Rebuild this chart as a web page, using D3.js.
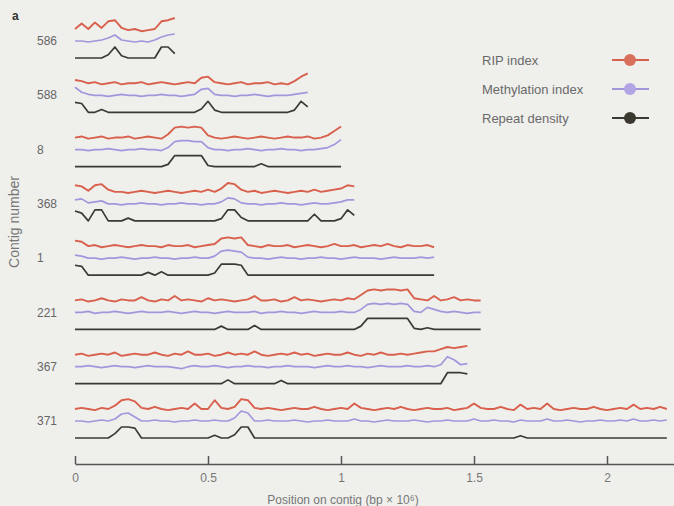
<!DOCTYPE html>
<html>
<head>
<meta charset="utf-8">
<script src="https://cdn.jsdelivr.net/npm/d3@7"></script>
<style>
  html, body { margin: 0; padding: 0; background: #efefec; }
  svg { display: block; font-family: "Liberation Sans", Arial, sans-serif; }
</style>
</head>
<body>
<svg id="chart" width="674" height="506"></svg>
<script>
// Sampling interval along each contig (Mb)
const step = 0.025;

const contigs = ["586", "588", "8", "368", "1", "221", "367", "371"];
const legendLabels = ["RIP index", "Methylation index", "Repeat density"];
const tickValues = [0, 0.5, 1, 1.5, 2];
const tickLabels = ["0", "0.5", "1", "1.5", "2"];

// Contig 586
const rip586  = [1.0, 1.5, 1.0, 1.6, 1.1, 1.7, 1.8, 1.1, 0.9, 1.0, 0.8, 0.9, 1.0, 1.7, 1.8, 2.0];
const meth586 = [1.0, 1.0, 0.9, 1.0, 1.1, 1.3, 1.6, 1.1, 1.0, 0.9, 1.0, 0.9, 1.1, 1.4, 1.6, 1.7];
const rep586  = [0, 0, 0, 0, 0, 0.3, 1, 0.2, 0, 0, 0, 0, 0, 1, 1, 0.4];

// Contig 588
const rip588 = [1.3, 1.2, 1.0, 1.1, 0.9, 1.0, 1.1, 0.9, 1.0, 1.0,
                1.1, 0.9, 1.0, 1.1, 1.0, 0.9, 1.0, 1.1, 1.0, 1.5,
                1.6, 1.1, 1.0, 0.9, 1.0, 1.1, 0.9, 1.0, 1.0, 1.1,
                0.9, 1.0, 0.9, 1.2, 1.6, 1.9];
const meth588 = [1.8, 1.3, 1.1, 1.0, 1.0, 0.9, 1.0, 1.1, 1.0, 1.0,
                 0.9, 1.0, 1.0, 1.1, 1.0, 1.0, 0.9, 1.0, 1.1, 1.6,
                 1.7, 1.1, 1.0, 1.0, 0.9, 1.0, 1.0, 1.1, 1.0, 0.9,
                 1.0, 1.0, 1.0, 1.1, 1.2, 1.3];
const rep588 = [0.9, 0.8, 0, 0, 0.25, 0, 0, 0, 0, 0,
                0, 0, 0, 0, 0, 0, 0, 0, 0, 0.3,
                1, 0.2, 0, 0, 0, 0, 0, 0, 0, 0,
                0, 0, 0, 0.2, 1, 0.5];

// Contig 8
const rip8 = [1.0, 1.1, 0.9, 1.0, 1.1, 0.9, 1.0, 1.0, 1.1, 0.9,
              1.0, 1.1, 1.0, 0.9, 1.3, 1.9, 2.0, 1.9, 2.0, 1.9,
              1.2, 1.0, 0.9, 1.0, 1.1, 1.0, 0.9, 1.0, 1.1, 1.0,
              0.9, 1.0, 1.1, 1.0, 1.0, 1.1, 0.9, 1.0, 1.2, 1.6,
              2.0];
const meth8 = [1.0, 1.0, 0.9, 1.0, 1.0, 1.1, 1.0, 0.9, 1.0, 1.0,
               1.1, 1.0, 1.0, 0.9, 1.2, 1.8, 1.9, 1.9, 1.8, 1.8,
               1.2, 1.0, 1.0, 0.9, 1.0, 1.0, 1.1, 1.0, 0.9, 1.0,
               1.0, 1.1, 1.0, 1.0, 0.9, 1.0, 1.0, 1.1, 1.2, 1.5,
               2.0];
const rep8 = [0, 0, 0, 0, 0, 0, 0, 0, 0, 0,
              0, 0, 0, 0, 0.2, 1, 1, 1, 1, 1,
              0.1, 0, 0, 0, 0, 0, 0, 0, 0.25, 0,
              0, 0, 0, 0, 0, 0, 0, 0, 0, 0,
              0];

// Contig 368
const rip368 = [1.6, 1.5, 1.1, 1.6, 1.7, 1.2, 1.0, 1.0, 0.9, 1.0,
                1.1, 1.0, 0.9, 1.0, 1.1, 1.0, 0.9, 1.0, 1.1, 1.0,
                1.2, 1.0, 1.3, 1.8, 1.7, 1.2, 1.0, 1.1, 0.9, 1.0,
                1.1, 1.0, 0.9, 1.0, 1.1, 1.0, 1.2, 1.0, 1.1, 1.2,
                1.3, 1.6, 1.5];
const meth368 = [1.4, 1.5, 1.1, 1.2, 1.3, 1.0, 1.0, 0.9, 1.0, 1.0,
                 1.1, 1.0, 1.0, 0.9, 1.0, 1.0, 1.1, 1.0, 1.0, 0.9,
                 1.0, 1.0, 1.2, 1.6, 1.5, 1.1, 1.0, 1.0, 0.9, 1.0,
                 1.0, 1.1, 1.0, 1.0, 0.9, 1.0, 1.1, 1.0, 1.0, 1.1,
                 1.2, 1.4, 1.4];
const rep368 = [0.9, 0.7, 0, 1, 1, 0, 0, 0, 0.25, 0,
                0, 0, 0, 0, 0, 0, 0, 0, 0, 0,
                0, 0, 0.2, 1, 1, 0.3, 0, 0, 0, 0,
                0, 0, 0, 0, 0, 0, 0.6, 0, 0, 0,
                0.2, 1, 0.5];

// Contig 1
const rip1 = [1.5, 1.4, 1.0, 1.1, 0.9, 1.0, 1.1, 1.0, 0.9, 1.0,
              1.1, 1.0, 1.0, 0.9, 1.1, 1.0, 1.0, 1.1, 0.9, 1.0,
              1.1, 1.2, 1.7, 1.8, 1.7, 1.8, 1.1, 1.0, 0.9, 1.1,
              1.0, 1.0, 1.1, 0.9, 1.0, 1.1, 1.0, 0.9, 1.0, 1.2,
              1.0, 1.0, 1.1, 0.9, 1.0, 1.1, 1.0, 1.2, 1.0, 0.9,
              1.1, 1.0, 1.0, 1.1, 0.9];
const meth1 = [1.3, 1.2, 1.0, 1.0, 0.9, 1.0, 1.0, 1.1, 1.0, 0.9,
               1.0, 1.0, 1.1, 1.0, 1.0, 0.9, 1.0, 1.0, 1.1, 1.0,
               1.0, 1.2, 1.7, 1.8, 1.7, 1.6, 1.1, 1.0, 1.0, 0.9,
               1.0, 1.1, 1.0, 1.0, 0.9, 1.0, 1.0, 1.1, 1.0, 1.0,
               0.9, 1.0, 1.1, 1.0, 1.0, 1.0, 0.9, 1.0, 1.1, 1.0,
               1.0, 1.0, 1.1, 1.0, 1.1];
const rep1 = [0.9, 0.8, 0, 0, 0, 0, 0, 0, 0, 0,
              0, 0.25, 0, 0.3, 0, 0, 0, 0, 0, 0,
              0, 0.2, 1, 1, 1, 0.9, 0, 0, 0, 0,
              0, 0, 0, 0, 0, 0, 0, 0, 0, 0,
              0, 0, 0, 0, 0, 0, 0, 0, 0, 0,
              0, 0, 0, 0, 0];

// Contig 221
const rip221 = [1.0, 1.1, 0.9, 1.0, 1.2, 1.0, 0.9, 1.1, 1.0, 1.0,
                1.3, 1.0, 0.9, 1.1, 1.0, 1.4, 1.0, 1.1, 1.0, 0.9,
                1.2, 1.0, 1.1, 1.0, 0.9, 1.0, 1.1, 1.4, 1.0, 1.0,
                1.1, 0.9, 1.0, 1.3, 1.0, 1.1, 1.0, 0.9, 1.0, 1.1,
                1.0, 1.2, 1.1, 1.5, 1.9, 2.0, 1.9, 2.0, 2.0, 1.9,
                2.0, 1.2, 1.1, 1.0, 1.4, 1.0, 1.1, 1.3, 1.0, 1.1,
                1.0, 1.0];
const meth221 = [1.0, 1.0, 1.1, 0.9, 1.0, 1.0, 1.1, 1.0, 0.9, 1.0,
                 1.1, 1.0, 1.0, 1.0, 1.1, 1.0, 0.9, 1.0, 1.1, 1.0,
                 1.0, 0.9, 1.0, 1.1, 1.0, 1.0, 1.0, 1.1, 0.9, 1.0,
                 1.0, 1.1, 1.0, 1.0, 0.9, 1.0, 1.1, 1.0, 1.0, 1.0,
                 1.1, 1.0, 1.0, 1.3, 1.8, 1.9, 1.8, 1.9, 1.8, 1.9,
                 1.8, 1.1, 1.0, 1.5, 1.3, 1.1, 1.0, 1.1, 1.0, 0.9,
                 1.0, 1.0];
const rep221 = [0, 0, 0, 0, 0, 0, 0, 0, 0, 0,
                0, 0, 0, 0, 0, 0, 0, 0, 0, 0,
                0, 0, 0.3, 0, 0, 0, 0, 0.35, 0, 0,
                0, 0, 0, 0, 0, 0, 0, 0, 0, 0,
                0, 0, 0, 0.3, 1, 1, 1, 1, 1, 1,
                1, 0.1, 0, 0.15, 0, 0, 0, 0, 0, 0,
                0, 0];

// Contig 367
const rip367 = [1.0, 1.1, 0.9, 1.0, 1.1, 1.0, 1.2, 0.9, 1.0, 1.1,
                1.0, 1.0, 1.2, 1.0, 0.9, 1.1, 1.0, 1.3, 1.0, 1.0,
                1.1, 0.9, 1.0, 1.2, 1.0, 1.1, 1.0, 1.3, 1.0, 0.9,
                1.0, 1.1, 1.0, 1.2, 1.0, 1.1, 0.9, 1.0, 1.1, 1.0,
                1.0, 1.2, 1.0, 0.9, 1.1, 1.0, 1.2, 1.0, 1.0, 1.1,
                1.0, 1.1, 1.2, 1.3, 1.3, 1.5, 1.7, 1.6, 1.7, 1.8];
const meth367 = [1.0, 1.0, 1.1, 1.0, 0.9, 1.0, 1.1, 1.0, 1.0, 0.9,
                 1.0, 1.1, 1.0, 1.0, 1.0, 0.9, 0.8, 1.0, 1.1, 1.0,
                 1.0, 1.1, 1.0, 0.9, 1.0, 1.0, 1.1, 1.0, 1.0, 0.9,
                 1.0, 1.0, 1.1, 1.0, 1.0, 1.0, 0.9, 1.0, 1.1, 1.0,
                 1.0, 1.1, 1.0, 1.0, 0.9, 1.0, 1.1, 1.0, 1.0, 1.0,
                 1.1, 1.0, 1.0, 1.1, 1.0, 1.2, 2.0, 1.7, 1.2, 1.3];
const rep367 = [0, 0, 0, 0, 0, 0, 0, 0, 0, 0,
                0, 0, 0, 0, 0, 0, 0, 0, 0, 0,
                0, 0, 0, 0.35, 0, 0, 0, 0, 0, 0,
                0, 0.3, 0, 0, 0, 0, 0, 0, 0, 0,
                0, 0, 0, 0, 0, 0, 0, 0, 0, 0,
                0, 0, 0, 0, 0, 0, 1, 1, 1, 0.9];

// Contig 371
const rip371 = [1.0, 1.1, 1.0, 0.9, 1.1, 1.0, 1.3, 1.8, 1.9, 1.7,
                1.1, 1.0, 1.2, 1.0, 0.9, 1.0, 1.1, 1.0, 1.5, 1.0,
                1.0, 1.8, 1.1, 1.0, 1.2, 1.9, 1.8, 1.1, 1.0, 1.1,
                1.0, 0.9, 1.0, 1.1, 1.0, 1.0, 1.2, 1.0, 0.9, 1.0,
                1.1, 1.0, 1.5, 1.1, 1.0, 0.9, 1.0, 1.1, 1.0, 1.2,
                1.0, 0.9, 1.0, 1.1, 1.0, 1.0, 1.1, 0.9, 1.0, 1.1,
                1.5, 1.1, 1.0, 1.0, 1.2, 1.0, 0.9, 1.4, 1.0, 1.1,
                1.0, 1.5, 1.0, 0.9, 1.0, 1.1, 1.0, 1.0, 1.2, 1.0,
                0.9, 1.0, 1.1, 1.0, 1.4, 1.0, 1.1, 1.0, 1.2, 1.0];
const meth371 = [1.0, 1.0, 0.9, 1.0, 1.1, 1.0, 1.2, 1.7, 1.8, 1.4,
                 1.0, 1.0, 1.1, 1.0, 1.0, 0.9, 1.0, 1.0, 1.1, 1.0,
                 1.0, 1.1, 1.0, 1.0, 1.3, 2.0, 1.8, 1.0, 1.0, 1.1,
                 1.0, 1.0, 1.0, 1.1, 1.0, 0.9, 1.0, 1.0, 1.1, 1.0,
                 1.0, 1.0, 1.2, 1.0, 1.0, 0.9, 1.0, 1.1, 1.0, 1.0,
                 1.0, 1.1, 1.0, 0.9, 1.0, 1.0, 1.1, 1.0, 1.0, 1.0,
                 1.2, 1.0, 1.0, 1.1, 1.0, 1.0, 0.9, 1.1, 1.0, 1.0,
                 1.0, 1.2, 1.0, 1.0, 1.1, 1.0, 0.9, 1.0, 1.0, 1.1,
                 1.0, 1.0, 1.1, 1.0, 1.2, 1.0, 1.0, 1.1, 1.0, 1.1];
const rep371 = [0, 0, 0, 0, 0, 0, 0.4, 1, 1, 0.9,
                0, 0, 0, 0, 0, 0, 0, 0, 0, 0,
                0, 0.25, 0, 0, 0.3, 1, 1, 0, 0, 0,
                0, 0, 0, 0, 0, 0, 0, 0, 0, 0,
                0, 0, 0, 0, 0, 0, 0, 0, 0, 0,
                0, 0, 0, 0, 0, 0, 0, 0, 0, 0,
                0, 0, 0, 0, 0, 0, 0, 0.2, 0, 0,
                0, 0, 0, 0, 0, 0, 0, 0, 0, 0,
                0, 0, 0, 0, 0, 0, 0, 0, 0, 0];

const tracks = [
  { id: "586", rip: rip586, meth: meth586, rep: rep586 },
  { id: "588", rip: rip588, meth: meth588, rep: rep588 },
  { id: "8",   rip: rip8,   meth: meth8,   rep: rep8 },
  { id: "368", rip: rip368, meth: meth368, rep: rep368 },
  { id: "1",   rip: rip1,   meth: meth1,   rep: rep1 },
  { id: "221", rip: rip221, meth: meth221, rep: rep221 },
  { id: "367", rip: rip367, meth: meth367, rep: rep367 },
  { id: "371", rip: rip371, meth: meth371, rep: rep371 }
];

const colors = { rip: "#d8604c", meth: "#a496dc", rep: "#3c3a33" };
const markerColors = ["#d9705c", "#b3a4e6", "#3b382f"];

const svg = d3.select("#chart");

// Position along contig (Mb)
const x = d3.scaleLinear().domain([0, 2.25]).range([75, 673.5]);
// Repeat-density baseline of each contig row
const row = d3.scalePoint().domain(contigs).range([58, 438]);

// Offsets within a row, relative to the repeat baseline
const ripY  = d3.scaleLinear().domain([0, 2]).range([-18, -40]);
const methY = d3.scaleLinear().domain([0, 2]).range([-7, -27]);
const repY  = d3.scaleLinear().domain([0, 1]).range([0, -11]);

const lineFor = yScale => d3.line()
  .x((d, i) => x(i * step))
  .y(d => yScale(d));

const rows = svg.append("g").selectAll("g.track")
  .data(tracks)
  .join("g")
  .attr("class", "track")
  .attr("transform", d => `translate(0,${row(d.id)})`);

rows.append("path")
  .attr("d", d => lineFor(ripY)(d.rip))
  .attr("fill", "none").attr("stroke", colors.rip)
  .attr("stroke-width", 1.9).attr("stroke-linejoin", "round");

rows.append("path")
  .attr("d", d => lineFor(methY)(d.meth))
  .attr("fill", "none").attr("stroke", colors.meth)
  .attr("stroke-width", 1.7).attr("stroke-linejoin", "round");

rows.append("path")
  .attr("d", d => lineFor(repY)(d.rep))
  .attr("fill", "none").attr("stroke", colors.rep)
  .attr("stroke-width", 1.7).attr("stroke-linejoin", "round");

rows.append("text")
  .attr("x", 37)
  .attr("y", -17)
  .attr("dy", "0.35em")
  .attr("font-size", 12)
  .attr("fill", "#666")
  .text(d => d.id);

// Bottom axis with upward ticks
const axis = d3.axisBottom(x)
  .tickValues(tickValues)
  .tickFormat((d, i) => tickLabels[i])
  .tickSizeInner(-8)
  .tickSizeOuter(0)
  .tickPadding(9);

const ax = svg.append("g")
  .attr("transform", "translate(0,464)")
  .call(axis);
ax.select(".domain").attr("stroke", "#555").attr("stroke-width", 1.5);
ax.selectAll(".tick line").attr("stroke", "#555").attr("stroke-width", 1.5);
ax.selectAll(".tick text")
  .attr("fill", "#777")
  .attr("font-size", 12)
  .attr("font-family", "'Liberation Sans', Arial, sans-serif");

svg.append("text")
  .attr("x", 343).attr("y", 504)
  .attr("text-anchor", "middle")
  .attr("font-size", 12)
  .attr("fill", "#777")
  .text("Position on contig (bp \u00d7 10\u2076)");

svg.append("text")
  .attr("transform", "translate(19,222) rotate(-90)")
  .attr("text-anchor", "middle")
  .attr("font-size", 14)
  .attr("fill", "#777")
  .text("Contig number");

svg.append("text")
  .attr("x", 12).attr("y", 20)
  .attr("font-size", 12)
  .attr("font-weight", "bold")
  .attr("fill", "#333")
  .text("a");

// Legend
const legendY = d3.scalePoint().domain(legendLabels).range([60, 118]);
const legend = svg.append("g").selectAll("g")
  .data(legendLabels)
  .join("g")
  .attr("transform", d => `translate(0,${legendY(d)})`);

legend.append("text")
  .attr("x", 482).attr("dy", "0.35em")
  .attr("font-size", 13)
  .attr("fill", "#6a6a6a")
  .text(d => d);

legend.append("line")
  .attr("x1", 612).attr("x2", 649)
  .attr("stroke", (d, i) => [colors.rip, colors.meth, colors.rep][i])
  .attr("stroke-width", 2);

legend.append("circle")
  .attr("cx", 630).attr("r", 6)
  .attr("fill", (d, i) => markerColors[i]);
</script>
</body>
</html>
